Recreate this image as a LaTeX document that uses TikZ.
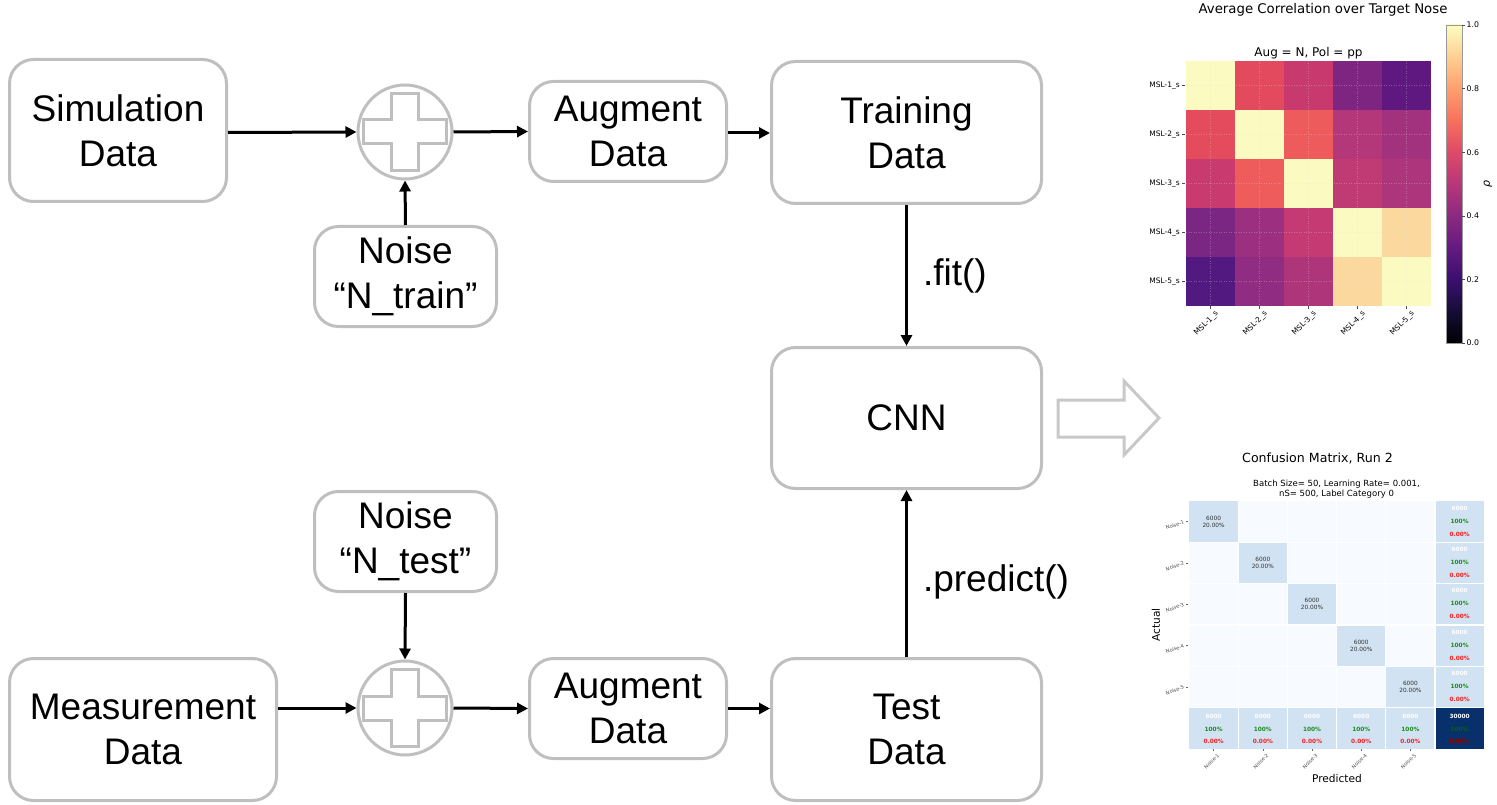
\documentclass[tikz,border=0pt]{standalone}
\usepackage{fontspec}
\setmainfont{Liberation Sans}
\newfontfamily\dvs{DejaVu Sans}
\usetikzlibrary{arrows.meta}
\definecolor{boxgray}{HTML}{BFBFBF}
\definecolor{arrgray}{HTML}{C8C8C8}
\definecolor{cmbg}{HTML}{F7FBFF}
\definecolor{cmcell}{HTML}{D1E2F2}
\definecolor{cmdark}{HTML}{08306B}
\definecolor{cmgreen}{HTML}{1E8C1E}
\definecolor{cmred}{HTML}{FF1F1F}
\definecolor{m0}{HTML}{000004}
\definecolor{m1}{HTML}{140E36}
\definecolor{m2}{HTML}{3B0F70}
\definecolor{m3}{HTML}{641A80}
\definecolor{m4}{HTML}{8C2981}
\definecolor{m5}{HTML}{B73779}
\definecolor{m6}{HTML}{DE4968}
\definecolor{m7}{HTML}{F7705C}
\definecolor{m8}{HTML}{FE9F6D}
\definecolor{m9}{HTML}{FECF92}
\definecolor{m10}{HTML}{FCFDBF}
\tikzset{
  boxnode/.style={draw=boxgray, line width=3pt, rounded corners=24pt, fill=white,
    align=center, font=\fontsize{37}{45}\selectfont, inner sep=0pt},
  plusnode/.style={draw=boxgray, line width=3pt, circle, minimum size=94pt, inner sep=0pt},
  flow/.style={line width=3pt, -{Triangle[length=11pt,width=11pt]}},
  flowlbl/.style={font=\fontsize{37}{45}\selectfont, inner sep=0pt, anchor=west},
  mpl/.style={font=\dvs\fontsize{#1}{#1}\selectfont, inner sep=0pt},
  cmsum/.style={inner sep=0pt, font=\dvs\bfseries\fontsize{5.8}{5.8}\selectfont},
}
\begin{document}
\begin{tikzpicture}[x=1pt,y=-1pt]
\useasboundingbox (0,0) rectangle (1497,805);

% ---- flow boxes ----
\node[boxnode, minimum width=217pt, minimum height=142pt] (sim) at (118,130.5) {Simulation\\Data};
\node[plusnode] (plus1) at (405,132) {};
\node[boxnode, minimum width=182pt, minimum height=100pt] (ntrain) at (405.5,276.5) {Noise\\“N\_train”};
\node[boxnode, minimum width=197pt, minimum height=100pt] (aug1) at (628,131.5) {Augment\\Data};
\node[boxnode, minimum width=270pt, minimum height=142pt] (train) at (906.5,132.5) {Training\\Data};
\node[boxnode, minimum width=270pt, minimum height=141pt] (cnn) at (906.5,418) {CNN};
\node[boxnode, minimum width=182pt, minimum height=100pt] (ntest) at (405.5,541.5) {Noise\\“N\_test”};
\node[plusnode] (plus2) at (405,708) {};
\node[boxnode, minimum width=267pt, minimum height=142pt] (meas) at (143,729.5) {Measurement\\Data};
\node[boxnode, minimum width=197pt, minimum height=100pt] (aug2) at (628,708.5) {Augment\\Data};
\node[boxnode, minimum width=270pt, minimum height=142pt] (test) at (906.5,729.5) {Test\\Data};

% plus crosses
\foreach \p in {plus1,plus2}{
  \draw[boxgray, line width=3pt, line join=miter, shift={(\p.center)}]
    (-13.5,-38.5) -- (13.5,-38.5) -- (13.5,-12) -- (41.5,-12) -- (41.5,12) -- (13.5,12)
    -- (13.5,38.5) -- (-13.5,38.5) -- (-13.5,12) -- (-41.5,12) -- (-41.5,-12) -- (-13.5,-12) -- cycle;
}

% ---- connectors ----
\draw[flow] ([yshift=-2pt]sim.east) -- (plus1.west);
\draw[flow] (plus1.east) -- (aug1.west);
\draw[flow] ([yshift=-1.5pt]aug1.east) -- ([yshift=-1.5pt]aug1.east -| train.west);
\draw[flow] (ntrain.north) -- (plus1.south);
\draw[flow] (train.south) -- (cnn.north) node[flowlbl, pos=0.5, xshift=15pt] (fitlbl) {.fit()};
\draw[flow] (test.north) -- (cnn.south) node[flowlbl, pos=0.45, xshift=15pt] (predlbl) {.predict()};
\draw[flow] (ntest.south) -- (plus2.north);
\draw[flow] (meas.east |- plus2.west) -- (plus2.west);
\draw[flow] (plus2.east) -- (aug2.west);
\draw[flow] (aug2.east) -- (aug2.east -| test.west);

% ---- block arrow ----
\draw[arrgray, line width=3pt, line join=miter, fill=white]
  (1058,400) -- (1124,400) -- (1124,381) -- (1159,418) -- (1124,455) -- (1124,437) -- (1058,437) -- cycle;

% ---- heatmap ----
\node[mpl=13.3] (hmtitle) at (1323,10) {Average Correlation over Target Nose};
\node[mpl=12] (hmsub) at (1308.5,53) {Aug = N, Pol = pp};
\foreach \i/\j/\col in {
  0/0/FBFAC0, 1/0/E44A5D, 2/0/C8396E, 3/0/7E2582, 4/0/5E1880,
  0/1/E44B5D, 1/1/FBFAC0, 2/1/EE5B5C, 3/1/B4377A, 4/1/A2327E,
  0/2/C93B6F, 1/2/EE5C5C, 2/2/FBFAC0, 3/2/C03A73, 4/2/AC357B,
  0/3/7C2683, 1/3/9D2F80, 2/3/C53A72, 3/3/FBFAC0, 4/3/FBD89E,
  0/4/521A80, 1/4/902C82, 2/4/AE3579, 3/4/FBD89E, 4/4/FBFAC0}{
  \definecolor{hmc}{HTML}{\col}
  \fill[hmc] (1186+49*\i,61+49*\j) rectangle ++(49,49);
}
\foreach \k in {0,...,4}{
  \draw[white!75!gray, opacity=0.3, dotted, line width=0.5pt] (1210.5+49*\k,61) -- ++(0,245);
  \draw[white!75!gray, opacity=0.3, dotted, line width=0.5pt] (1186,85.5+49*\k) -- ++(245,0);
}
\foreach \k [evaluate=\k as \n using int(\k+1)] in {0,...,4}{
  \node[mpl=7.5, anchor=east] (hmrow\n) at (1180,85.5+49*\k) {MSL-\n\_s};
  \draw[black!70, line width=0.5pt] (1182,85.5+49*\k) -- (1185,85.5+49*\k);
  \node[mpl=7.5, anchor=north east, rotate=45] (hmcol\n) at (1214.5+49*\k,310) {MSL-\n\_s};
  \draw[black!70, line width=0.5pt] (1210.5+49*\k,306) -- (1210.5+49*\k,309);
}
% colorbar
\foreach \k [evaluate=\k as \kk using int(\k+1)] in {0,...,9}{
  \shade[bottom color=m\k, top color=m\kk] (1446,343-31.8*\kk) rectangle (1462,343-31.8*\k);
}
\draw[black!40, line width=0.5pt] (1446,25) rectangle (1462,343);
\foreach \v/\t in {0/0.0,1/0.2,2/0.4,3/0.6,4/0.8,5/1.0}{
  \draw[black!70, line width=0.5pt] (1462,343-63.6*\v) -- (1465,343-63.6*\v);
  \node[mpl=7.8, anchor=west] (cb\v) at (1466.5,343-63.6*\v) {\t};
}
\node[mpl=11, rotate=90, font=\dvs\itshape\fontsize{11}{11}\selectfont] (rho) at (1488,184) {ρ};

% ---- confusion matrix ----
\node[mpl=12.6] (cmtitle) at (1317.5,458) {Confusion Matrix, Run 2};
\node[mpl=8.5, align=center, font=\dvs\fontsize{8.5}{10}\selectfont] (cmsub) at (1336.5,489) {Batch Size= 50, Learning Rate= 0.001,\\nS= 500, Label Category 0};
\fill[cmbg] (1189,501) rectangle (1484,749);
\foreach \k [evaluate=\k as \n using int(\k+1)] in {0,...,4}{
  \fill[cmcell] (1189+49.2*\k,501+41.3*\k) rectangle ++(49.2,41.3);
  \fill[cmcell] (1189+49.2*5,501+41.3*\k) rectangle ++(49.2,41.3);
  \fill[cmcell] (1189+49.2*\k,501+41.3*5) rectangle ++(49.2,41.3);
}
\fill[cmdark] (1189+49.2*5,501+41.3*5) rectangle ++(49.2,41.3);
\foreach \k in {1,...,5}{
  \draw[white, line width=1.2pt] (1189+49.2*\k,501) -- ++(0,247.8);
  \draw[white, line width=1.2pt] (1189,501+41.3*\k) -- ++(295.2,0);
}
\foreach \k [evaluate=\k as \n using int(\k+1)] in {0,...,4}{
  \node[inner sep=0pt, align=center, text=black!80, font=\dvs\fontsize{5.8}{6.8}\selectfont] (cmd\n) at (1213.6+49.2*\k,521.6+41.3*\k) {6000\\20.00\%};
  % right column
  \node[cmsum, text=white] (cmra\n) at (1459.6,508+41.3*\k) {6000};
  \node[cmsum, text=cmgreen] (cmrb\n) at (1459.6,521+41.3*\k) {100\%};
  \node[cmsum, text=cmred] (cmrc\n) at (1459.6,534+41.3*\k) {0.00\%};
  % bottom row
  \node[cmsum, text=white] (cmba\n) at (1213.6+49.2*\k,716) {6000};
  \node[cmsum, text=cmgreen] (cmbb\n) at (1213.6+49.2*\k,729) {100\%};
  \node[cmsum, text=cmred] (cmbc\n) at (1213.6+49.2*\k,741) {0.00\%};
  % tick labels
  \node[mpl=5, text=black!70, anchor=east, rotate=20] (cmrow\n) at (1184,521.6+41.3*\k) {Noise-\n};
  \draw[black!60, line width=0.4pt] (1186,521.6+41.3*\k) -- (1188,521.6+41.3*\k);
  \node[mpl=5, text=black!70, anchor=north east, rotate=45] (cmcol\n) at (1217+49.2*\k,753) {Noise-\n};
  \draw[black!60, line width=0.4pt] (1213.6+49.2*\k,749) -- (1213.6+49.2*\k,751);
}
\node[cmsum, text=white] (cmtot) at (1459.6,716) {30000};
\node[cmsum, text=green!40!black] (cmtotb) at (1459.6,729) {100\%};
\node[cmsum, text=red!60!black] (cmtotc) at (1459.6,741) {0.00\%};
\node[mpl=10.6, rotate=90] (actual) at (1156,625) {Actual};
\node[mpl=10.6] (predicted) at (1337,779) {Predicted};
\end{tikzpicture}
\end{document}
